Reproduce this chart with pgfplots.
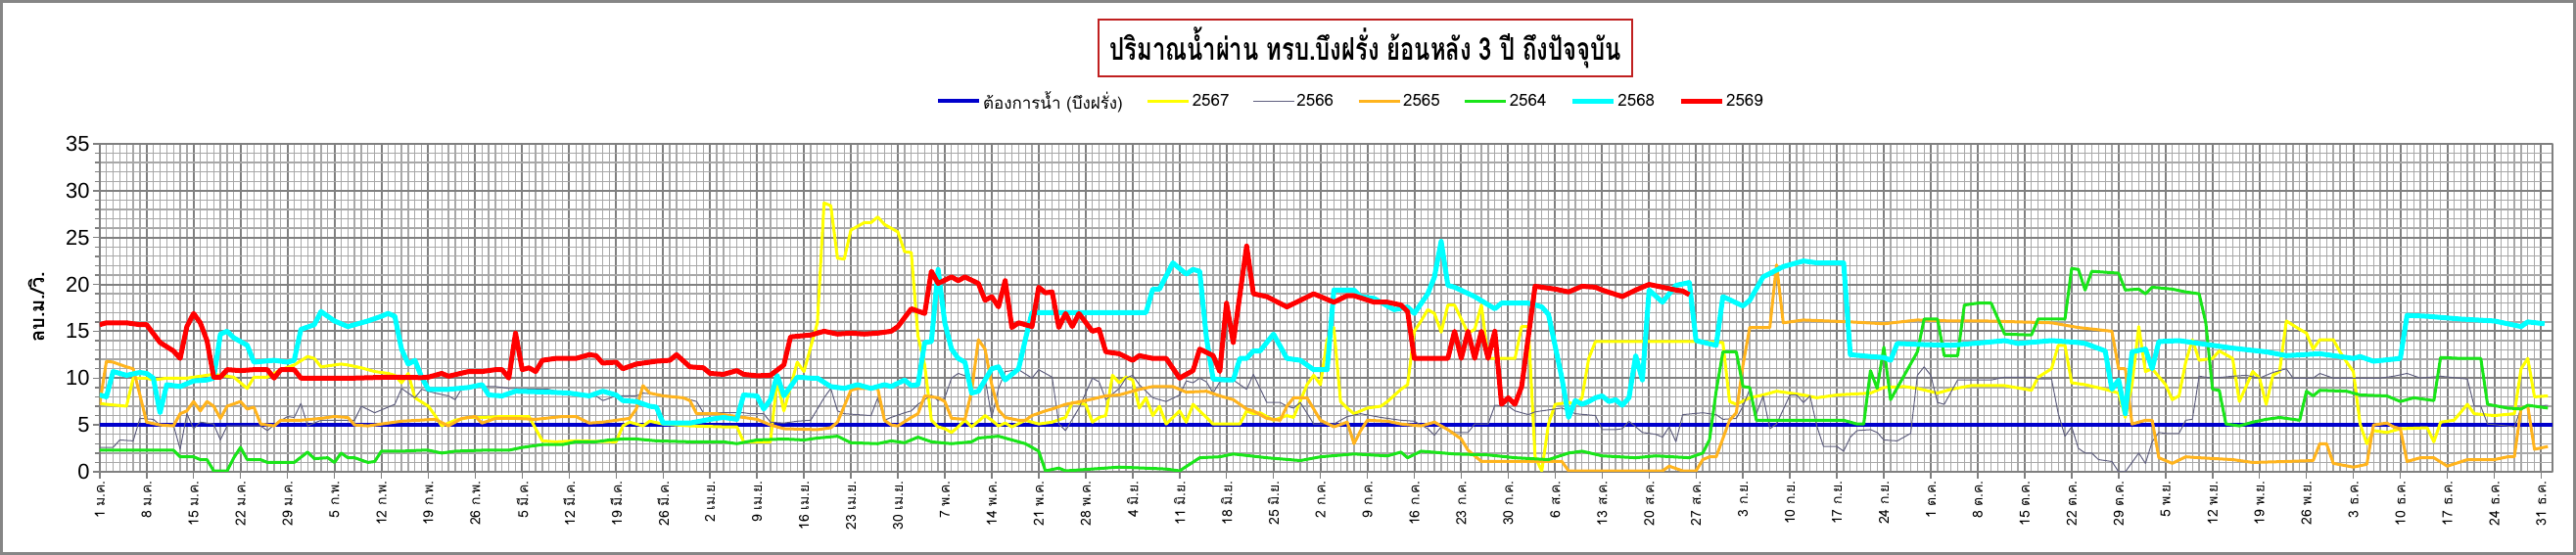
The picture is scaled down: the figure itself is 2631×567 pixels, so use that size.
\documentclass[border=0pt]{standalone}
\usepackage{fontspec}
\setmainfont{Liberation Sans}
\newfontfamily\thaifont[Script=Thai]{Loma}
\usepackage{graphicx}
\usepackage{pgfplots}
\pgfplotsset{compat=1.18}
\definecolor{gridmajor}{HTML}{808080}
\definecolor{gridminor}{HTML}{A8A8A8}
\definecolor{framegray}{HTML}{868686}
\definecolor{titlered}{HTML}{C02020}
\definecolor{needblue}{HTML}{0000CC}
\definecolor{y67}{HTML}{FFFF00}
\definecolor{g66}{HTML}{60607F}
\definecolor{o65}{HTML}{FFB41E}
\definecolor{gr64}{HTML}{1AE51A}
\definecolor{c68}{HTML}{00FFFF}
\definecolor{r69}{HTML}{FF0000}
\begin{document}
\begin{tikzpicture}[x=1bp,y=1bp]
\useasboundingbox (0,0) rectangle (2631,567);
\fill[white] (0,0) rectangle (2631,567);
\draw[framegray, line width=3bp] (1.5,1.5) rectangle (2629.5,565.5);
\node[draw=titlered, line width=2.5bp, fill=white, minimum width=545bp, minimum height=58bp, inner sep=0pt] at (1394.5,518) {\resizebox{522bp}{\height}{\thaifont\bfseries\fontsize{32}{38}\selectfont ปริมาณน้ำผ่าน ทรบ.บึงฝรั่ง ย้อนหลัง 3 ปี ถึงปัจจุบัน}};
\node[rotate=90] at (37,253) {\thaifont\bfseries\fontsize{20}{20}\selectfont ลบ.ม./วิ.};
\begin{axis}[
  at={(101.8bp,85bp)}, anchor=south west, scale only axis,
  width=2505.2bp, height=335bp,
  xmin=1, xmax=366.7, ymin=0, ymax=35,
  xtick={1,8,...,365},
  xticklabels={1 ม.ค.,8 ม.ค.,15 ม.ค.,22 ม.ค.,29 ม.ค.,5 ก.พ.,12 ก.พ.,19 ก.พ.,26 ก.พ.,5 มี.ค.,12 มี.ค.,19 มี.ค.,26 มี.ค.,2 เม.ย.,9 เม.ย.,16 เม.ย.,23 เม.ย.,30 เม.ย.,7 พ.ค.,14 พ.ค.,21 พ.ค.,28 พ.ค.,4 มิ.ย.,11 มิ.ย.,18 มิ.ย.,25 มิ.ย.,2 ก.ค.,9 ก.ค.,16 ก.ค.,23 ก.ค.,30 ก.ค.,6 ส.ค.,13 ส.ค.,20 ส.ค.,27 ส.ค.,3 ก.ย.,10 ก.ย.,17 ก.ย.,24 ก.ย.,1 ต.ค.,8 ต.ค.,15 ต.ค.,22 ต.ค.,29 ต.ค.,5 พ.ย.,12 พ.ย.,19 พ.ย.,26 พ.ย.,3 ธ.ค.,10 ธ.ค.,17 ธ.ค.,24 ธ.ค.,31 ธ.ค.},
  minor x tick num=6,
  ytick={0,5,...,35},
  minor y tick num=4,
  grid=both,
  major grid style={draw=gridmajor, line width=2bp},
  minor grid style={draw=gridminor, line width=1.3bp},
  axis line style={draw=gridmajor, line width=2bp},
  tick align=outside,
  tick pos=left,
  major tick length=7bp,
  minor tick length=5bp,
  tick style={draw=gridmajor, line width=1.5bp},
  minor x tick style={draw=none},
  xticklabel style={font=\thaifont\fontsize{14}{14}\selectfont, rotate=90, anchor=east, inner sep=2bp},
  yticklabel style={font=\fontsize{22}{22}\selectfont, inner sep=3bp},
  /pgf/number format/assume math mode=true,
  legend style={at={(0.510,1.131)}, anchor=center, draw=none, fill=none, font=\thaifont\fontsize{17}{17}\selectfont, legend columns=7, /tikz/every even column/.append style={column sep=22bp}},
  legend cell align=left,
  legend image code/.code={\draw[#1] (0bp,0bp) -- (42bp,0bp);},
  line join=round,
]
\addplot[needblue, line width=4bp] coordinates {(1,5)(366.7,5)};
\addlegendentry{ต้องการน้ำ (บึงฝรั่ง)}
\addplot[y67, line width=3bp] coordinates {(1,7.3)(2,7.2)(5,7.0)(6,10.0)(8,10.0)(9,9.8)(11,10.0)(14,10.0)(17,10.3)(18,10.4)(21,10.1)(23,8.9)(24,10.1)(26,10.1)(28,10.9)(30,11.4)(32,12.3)(33,12.1)(34,11.2)(37,11.5)(38,11.4)(40,11.1)(42,10.7)(44,10.5)(45,10.3)(46,9.5)(47,10.5)(48,7.9)(50,7.0)(51,6.0)(52,4.9)(54,5.5)(56,5.8)(58,5.8)(61,5.9)(65,5.9)(67,3.3)(69,3.2)(72,3.3)(78,3.2)(79,4.9)(80,5.3)(82,4.9)(83,5.4)(85,5.1)(89,4.9)(94,4.8)(96,4.8)(97,3.2)(101,3.2)(102,9.8)(103,6.5)(105,11.7)(106,10.7)(108,15.9)(109,28.7)(110,28.4)(111,22.8)(112,22.7)(113,25.8)(115,26.6)(116,26.6)(117,27.2)(118,26.4)(120,25.6)(121,23.5)(122,23.4)(123,14.5)(124,11.4)(125,5.5)(126,4.8)(127,4.6)(128,4.2)(129,4.8)(130,5.5)(131,4.8)(133,6.0)(134,5.5)(135,4.9)(136,5.2)(137,4.8)(139,5.5)(141,5.1)(143,5.3)(145,5.8)(146,7.4)(148,7.2)(149,5.3)(150,5.8)(151,6.0)(152,10.3)(153,9.5)(154,10.1)(155,9.8)(156,6.8)(157,7.9)(158,6.0)(159,7.0)(160,5.1)(162,6.5)(163,5.3)(164,7.2)(166,5.8)(167,5.1)(171,5.1)(172,6.5)(173,6.2)(174,6.3)(176,5.5)(178,6.0)(179,5.8)(181,9.3)(182,10.3)(183,9.3)(184,14.1)(185,15.4)(186,7.5)(187,6.8)(188,6.2)(190,6.8)(192,7.0)(193,7.5)(195,8.8)(196,9.3)(197,15.0)(198,16.1)(199,17.3)(200,16.9)(201,14.9)(202,17.8)(203,17.8)(205,14.8)(206,15.2)(207,17.8)(208,12.1)(212,12.1)(213,15.5)(214,15.5)(215,1.6)(216,0.1)(217,5.1)(218,7.2)(220,7.4)(221,7.2)(222,7.9)(223,12.1)(224,13.9)(239,13.9)(243,13.8)(244,7.5)(245,7.2)(247,7.9)(249,8.2)(251,8.6)(255,8.2)(257,7.9)(260,8.2)(265,8.4)(267,9.0)(270,9.1)(272,8.9)(275,8.4)(277,8.8)(280,9.2)(285,9.2)(289,8.7)(290,10.1)(292,11.0)(293,13.5)(294,13.5)(295,9.5)(297,9.3)(300,8.8)(302,8.4)(303,5.8)(304,9.3)(305,15.5)(306,10.7)(307,11.0)(309,9.3)(310,7.7)(311,8.1)(312,11.7)(313,14.1)(314,11.9)(316,12.1)(317,12.9)(319,12.1)(320,7.5)(322,10.7)(323,10.0)(324,7.2)(325,10.3)(326,10.7)(327,16.1)(329,15.2)(330,14.8)(331,13.1)(332,14.1)(334,14.1)(335,12.8)(336,11.7)(337,10.7)(338,5.1)(339,3.0)(340,4.4)(342,4.2)(344,4.6)(348,4.7)(349,3.2)(350,5.3)(352,5.5)(354,7.2)(355,6.2)(358,6.0)(361,6.2)(362,11.0)(363,12.1)(364,8.0)(366,8.1)};
\addlegendentry{2567}
\addplot[g66, line width=1bp] coordinates {(1,2.6)(3,2.6)(4,3.4)(6,3.3)(7,5.7)(9,5.6)(10,5.0)(12,5.0)(13,2.4)(14,6.2)(15,4.6)(16,5.3)(18,5.1)(19,3.4)(20,4.9)(25,4.9)(26,4.4)(27,5.0)(29,5.9)(30,5.8)(31,7.3)(32,4.9)(34,5.5)(39,5.5)(40,7.0)(42,6.3)(45,7.2)(46,8.9)(48,7.9)(49,8.8)(51,8.4)(53,8.1)(54,7.7)(55,8.9)(57,9.1)(60,9.1)(62,8.9)(68,8.8)(71,8.2)(74,8.0)(75,8.1)(76,7.6)(78,8.1)(81,8.1)(82,8.4)(85,8.2)(88,7.9)(90,7.5)(91,6.3)(94,6.3)(97,6.3)(98,6.2)(100,6.2)(101,5.3)(103,5.2)(105,5.4)(107,5.5)(109,7.9)(110,8.9)(111,6.5)(112,6.2)(116,6.0)(117,7.9)(118,5.5)(119,5.8)(121,6.3)(122,6.5)(123,7.2)(125,8.2)(126,7.6)(127,7.9)(128,10.0)(129,10.5)(131,10.0)(133,10.0)(134,5.8)(135,8.9)(136,10.7)(138,10.9)(140,10.0)(141,10.9)(143,10.1)(144,5.1)(145,4.4)(147,6.8)(149,10.0)(150,9.6)(151,7.7)(153,8.9)(154,10.0)(155,10.3)(156,9.3)(158,7.9)(160,7.5)(162,8.2)(163,9.7)(164,9.5)(165,10.0)(166,9.6)(167,8.4)(168,9.6)(170,9.8)(172,8.8)(173,10.4)(175,7.4)(177,7.4)(178,7.0)(179,6.8)(180,7.4)(182,5.1)(185,5.1)(187,5.9)(189,6.2)(192,5.8)(195,5.5)(197,5.4)(199,4.6)(200,3.9)(201,4.8)(203,4.2)(205,4.2)(206,5.1)(208,5.1)(209,7.1)(211,7.0)(212,6.5)(214,6.1)(215,6.4)(217,6.6)(219,6.8)(221,6.2)(224,6.0)(225,4.5)(227,4.5)(228,4.6)(229,5.4)(231,4.2)(233,4.0)(234,3.7)(235,4.8)(236,3.2)(237,6.1)(240,6.3)(242,6.1)(243,5.6)(245,5.7)(246,7.0)(247,8.8)(248,6.2)(249,8.1)(250,4.6)(251,5.1)(253,8.2)(254,8.2)(255,7.4)(256,8.1)(257,4.9)(258,2.7)(260,2.7)(261,2.2)(262,3.7)(263,4.4)(265,4.5)(266,4.2)(267,3.4)(269,3.3)(271,4.1)(272,10.3)(273,11.2)(274,10.3)(275,7.4)(276,7.2)(278,9.8)(283,9.8)(285,10.1)(289,10.1)(290,9.9)(292,9.9)(293,6.2)(294,3.8)(295,4.8)(296,2.5)(297,2.0)(298,2.0)(299,1.3)(301,1.1)(302,0)(303,0)(305,2.0)(306,0.9)(307,3.2)(308,4.2)(309,4.1)(311,4.1)(312,5.5)(313,5.6)(314,10.2)(316,10.0)(319,10.2)(321,10.3)(323,10.0)(325,10.6)(327,11.0)(328,10.0)(331,10.0)(332,10.5)(334,10.0)(337,10.0)(341,10.0)(343,10.2)(345,10.5)(347,10.0)(350,10.2)(354,9.9)(355,7.0)(356,7.0)(357,5.1)(360,4.9)(361,4.8)(362,6.8)(364,7.0)(366,7.1)};
\addlegendentry{2566}
\addplot[o65, line width=3bp] coordinates {(1,7.2)(2,11.8)(3,11.7)(5,11.2)(6,11.0)(7,8.2)(8,5.3)(10,5.0)(12,4.9)(13,6.2)(14,6.5)(15,7.5)(16,6.5)(17,7.5)(18,7.0)(19,5.7)(20,7.0)(22,7.5)(23,6.7)(24,6.9)(25,5.1)(27,4.9)(28,5.5)(31,5.5)(34,5.7)(36,5.9)(38,5.8)(39,5.0)(41,4.9)(46,5.4)(51,5.6)(53,4.9)(55,5.7)(57,5.9)(58,5.2)(60,5.7)(63,5.7)(66,5.6)(70,5.9)(72,5.9)(74,5.2)(76,5.3)(80,5.7)(81,6.7)(82,9.2)(83,8.4)(85,8.1)(88,7.9)(89,7.6)(90,6.2)(93,6.2)(95,6.0)(97,5.8)(99,5.6)(101,5.0)(103,4.6)(108,4.5)(110,4.7)(111,5.3)(112,7.0)(113,8.7)(114,8.9)(117,8.9)(118,5.5)(119,5.0)(120,4.9)(122,5.8)(123,6.2)(124,8.1)(126,7.9)(127,7.5)(128,5.7)(130,5.6)(131,8.6)(132,14.1)(133,13.1)(134,9.3)(135,6.6)(136,5.8)(138,5.5)(139,5.5)(140,6.0)(142,6.5)(143,6.7)(145,7.2)(148,7.6)(151,8.1)(153,8.2)(156,8.8)(158,9.1)(161,9.1)(163,8.5)(166,8.6)(168,8.1)(170,7.7)(172,6.7)(173,6.5)(175,5.7)(177,5.5)(178,7.0)(179,7.9)(181,7.9)(183,5.5)(185,4.8)(187,5.3)(188,3.0)(189,4.4)(190,5.5)(193,5.4)(195,5.1)(198,4.9)(200,5.3)(202,4.5)(204,3.5)(205,2.3)(207,1.1)(219,1.1)(220,0.1)(234,0.1)(235,0.6)(237,0.1)(239,0.1)(240,1.3)(241,1.6)(242,1.6)(244,5.5)(245,6.3)(246,11.4)(247,15.4)(250,15.4)(251,22.1)(252,15.9)(255,16.2)(262,16.0)(267,15.8)(272,16.2)(277,16.1)(282,16.1)(287,16.0)(292,15.9)(296,15.4)(301,15.0)(302,11.0)(303,11.0)(304,5.1)(306,5.5)(307,5.5)(308,1.5)(310,0.9)(312,1.6)(314,1.5)(319,1.3)(322,1.0)(327,1.1)(331,1.2)(332,3.0)(333,3.0)(334,0.9)(337,0.5)(339,0.8)(340,5.0)(342,5.2)(343,4.8)(344,4.6)(345,1.1)(347,1.5)(349,1.5)(351,0.6)(354,1.3)(358,1.3)(360,1.6)(361,1.6)(362,6.8)(363,7.0)(364,2.4)(366,2.7)};
\addlegendentry{2565}
\addplot[gr64, line width=3bp] coordinates {(1,2.3)(12,2.3)(13,1.6)(15,1.6)(16,1.3)(17,1.3)(18,0.1)(20,0.1)(21,1.5)(22,2.6)(23,1.3)(25,1.3)(26,1.0)(30,1.0)(32,2.1)(33,1.4)(35,1.5)(36,1.0)(37,2.0)(38,1.5)(39,1.5)(41,1.0)(42,1.1)(43,2.2)(46,2.2)(49,2.3)(50,2.3)(52,2.0)(54,2.2)(58,2.3)(62,2.3)(64,2.6)(67,2.9)(70,2.9)(72,3.2)(75,3.2)(77,3.4)(79,3.5)(81,3.5)(84,3.3)(89,3.2)(94,3.2)(96,3.0)(99,3.4)(103,3.5)(106,3.4)(108,3.6)(111,3.8)(113,3.1)(117,3.0)(119,3.3)(121,3.1)(123,3.7)(125,3.2)(128,3.0)(131,3.2)(132,3.6)(135,3.8)(137,3.4)(139,3.0)(141,2.2)(142,0.1)(144,0.4)(145,0.1)(153,0.5)(160,0.3)(162,0.1)(165,1.5)(168,1.6)(170,1.9)(175,1.5)(180,1.2)(183,1.6)(188,1.9)(193,1.7)(195,2.1)(196,1.5)(198,2.2)(203,1.9)(208,1.8)(212,1.5)(217,1.3)(220,2.0)(222,2.2)(225,1.7)(230,1.5)(233,1.7)(238,1.5)(240,2.0)(241,3.4)(242,8.6)(243,12.8)(245,12.8)(246,9.1)(247,9.0)(248,5.5)(261,5.5)(263,5.1)(264,5.1)(265,10.8)(266,8.9)(267,13.3)(268,7.7)(272,12.8)(273,16.3)(275,16.3)(276,12.4)(278,12.4)(279,17.8)(281,18.0)(283,18.0)(285,14.7)(289,14.6)(290,16.3)(294,16.3)(295,21.7)(296,21.6)(297,19.4)(298,21.4)(302,21.2)(303,19.4)(305,19.5)(306,19.0)(307,19.7)(310,19.5)(312,19.2)(314,19.0)(315,15.9)(316,8.8)(317,8.7)(318,5.1)(320,4.9)(322,5.3)(324,5.6)(326,5.8)(329,5.5)(330,8.6)(331,8.1)(332,8.7)(336,8.6)(338,8.2)(342,8.1)(344,7.5)(346,7.9)(349,7.6)(350,12.2)(353,12.1)(356,12.1)(357,7.2)(360,6.8)(362,6.7)(363,7.1)(366,6.8)};
\addlegendentry{2564}
\addplot[c68, line width=5bp] coordinates {(1,8.2)(2,8.0)(3,10.7)(5,10.3)(7,10.6)(8,10.5)(9,10.0)(10,6.3)(11,9.3)(13,9.1)(15,9.7)(17,9.8)(18,10.0)(19,14.7)(20,15.0)(21,14.3)(23,13.5)(24,11.7)(27,11.9)(29,11.7)(30,11.9)(31,15.2)(33,15.7)(34,17.1)(36,16.1)(38,15.5)(41,16.1)(43,16.6)(44,16.9)(45,16.6)(46,13.1)(47,11.5)(48,11.9)(49,10.1)(50,8.8)(53,8.8)(56,9.0)(58,9.3)(59,8.2)(61,8.1)(63,8.6)(68,8.5)(71,8.4)(74,8.1)(76,8.6)(78,8.2)(79,7.6)(81,7.5)(83,7.0)(84,6.9)(85,5.2)(89,5.2)(92,5.6)(94,5.8)(96,5.6)(97,8.2)(99,8.1)(100,6.7)(101,7.7)(102,10.3)(103,8.1)(105,10.1)(107,10.0)(108,10.0)(110,9.1)(112,8.9)(114,9.3)(116,8.9)(118,9.3)(119,9.1)(121,9.8)(122,9.2)(123,9.3)(124,13.8)(125,13.9)(126,21.6)(127,15.9)(128,13.1)(129,12.1)(130,11.7)(131,8.4)(132,8.6)(134,11.0)(135,11.2)(136,9.8)(138,11.0)(139,14.1)(140,17.0)(157,17.0)(158,19.5)(159,19.5)(161,22.3)(163,21.1)(164,21.6)(165,21.4)(166,14.3)(167,9.9)(169,9.8)(170,9.8)(171,12.1)(172,12.1)(173,12.9)(174,12.9)(176,14.7)(178,12.1)(180,11.9)(182,10.9)(184,10.9)(185,19.4)(188,19.4)(189,18.7)(191,18.5)(194,17.3)(196,17.6)(197,16.9)(199,19.0)(200,20.8)(201,24.6)(202,19.9)(203,19.7)(206,18.7)(209,17.4)(210,18.0)(214,18.0)(216,17.6)(217,16.8)(219,10.0)(220,5.8)(221,7.6)(222,7.2)(223,7.5)(224,7.9)(225,8.1)(226,7.5)(227,7.7)(228,7.1)(229,7.9)(230,12.4)(231,9.8)(232,19.4)(234,18.1)(236,19.9)(238,20.2)(239,14.0)(242,13.5)(243,18.7)(246,17.7)(247,18.3)(249,20.8)(252,21.9)(255,22.5)(257,22.3)(261,22.3)(262,12.5)(265,12.3)(267,12.2)(268,11.9)(269,13.7)(272,13.6)(277,13.5)(282,13.8)(285,14.0)(287,13.7)(292,14.0)(296,13.8)(297,13.7)(300,12.9)(301,8.8)(302,9.8)(303,6.2)(304,12.8)(306,13.1)(307,11.0)(308,13.9)(311,14.0)(315,13.6)(319,13.2)(324,12.8)(327,12.4)(332,12.6)(337,12.1)(338,12.3)(340,11.8)(344,12.1)(345,16.7)(348,16.6)(353,16.3)(358,16.1)(362,15.5)(363,16.0)(365.5,15.8)};
\addlegendentry{2568}
\addplot[r69, line width=5bp] coordinates {(1,15.7)(2,15.9)(5,15.9)(7,15.7)(8,15.7)(10,13.8)(12,12.9)(13,12.1)(14,15.5)(15,16.9)(16,15.9)(17,14.0)(18,10.1)(19,10.1)(20,10.9)(22,10.8)(24,10.9)(26,10.9)(27,10.0)(28,10.9)(30,10.9)(31,10.0)(34,10.0)(39,10.0)(44,10.1)(49,10.05)(50,10.1)(52,10.5)(53,10.2)(56,10.7)(58,10.7)(60,10.9)(61,10.9)(62,10.0)(63,14.8)(64,10.9)(65,11.1)(66,10.7)(67,11.9)(69,12.1)(72,12.1)(74,12.5)(75,12.4)(76,11.6)(78,11.7)(79,11.0)(81,11.5)(84,11.8)(86,11.9)(87,12.5)(89,11.2)(91,11.1)(92,10.5)(94,10.4)(96,10.8)(97,10.4)(99,10.25)(101,10.3)(103,11.4)(104,14.4)(107,14.6)(109,15.0)(111,14.7)(113,14.8)(115,14.7)(117,14.8)(119,15.0)(120,15.5)(122,17.4)(124,16.9)(125,21.4)(126,20.1)(128,20.8)(129,20.4)(130,20.8)(132,20.1)(133,18.3)(134,18.7)(135,17.6)(136,20.4)(137,15.4)(138,15.9)(140,15.5)(141,19.7)(142,19.1)(143,19.2)(144,15.4)(145,16.9)(146,15.5)(147,16.9)(149,15.0)(150,15.2)(151,12.8)(153,12.6)(155,11.9)(156,12.4)(158,12.1)(160,12.1)(162,10.0)(164,10.8)(165,13.1)(167,12.4)(168,10.7)(169,18.0)(170,13.8)(172,24.1)(173,19.0)(175,18.7)(178,17.6)(180,18.3)(182,19.0)(185,18.1)(187,18.8)(188,18.8)(191,18.1)(193,18.1)(195,17.8)(196,17.1)(197,12.1)(202,12.1)(203,15.0)(204,12.1)(205,15.0)(206,12.1)(207,15.0)(208,12.1)(209,15.0)(210,7.2)(211,7.9)(212,7.2)(213,9.1)(215,19.8)(218,19.5)(220,19.2)(222,19.8)(224,19.7)(225,19.4)(228,18.7)(230,19.4)(232,20.0)(234,19.7)(236,19.4)(237,19.3)(238,18.9)};
\addlegendentry{2569}
\end{axis}
\end{tikzpicture}
\end{document}
